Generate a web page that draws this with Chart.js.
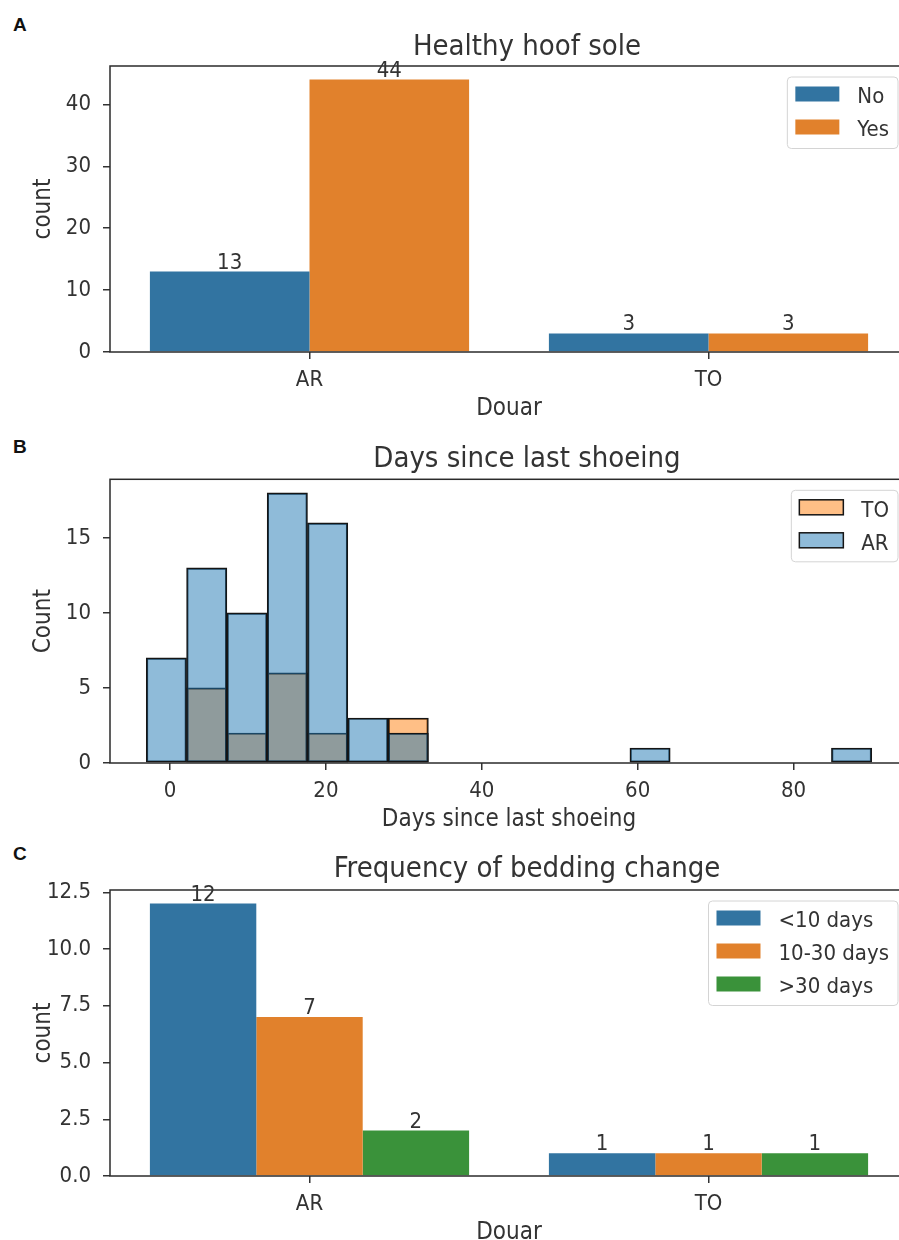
<!DOCTYPE html>
<html>
<head>
<meta charset="utf-8">
<script src="https://cdn.jsdelivr.net/npm/chart.js@4.4.1/dist/chart.umd.min.js"></script>
<style>
    html, body { margin: 0; padding: 0; background: #fff; overflow: hidden; }
    body { width: 899px; height: 1240px; position: relative; }
    canvas { position: absolute; left: 0; }
    .panel-letter { position: absolute; left: 13px; font: bold 19px 'Liberation Sans', Arial, sans-serif; line-height: 19px; color: #111; }
</style>
</head>
<body>
<div class="panel-letter" style="top:15px">A</div>
<div class="panel-letter" style="top:437px">B</div>
<div class="panel-letter" style="top:844px">C</div>
<canvas id="hoofChart" width="908" height="423" style="top:0px"></canvas>
<canvas id="shoeingChart" width="908" height="414" style="top:420px"></canvas>
<canvas id="beddingChart" width="908" height="417" style="top:830px"></canvas>
<script>
// A - healthy hoof sole, counts per douar
const douars = ['AR', 'TO'];
const soleNo = [13, 3];
const soleYes = [44, 3];
const soleTicks = [0, 10, 20, 30, 40];

// B - days since last shoeing (histogram, bin edges)
const shoeingBinEdges = [-3.04, 2.13, 7.30, 12.47, 17.64, 22.81, 27.98, 33.15, 38.32, 43.49,
    48.66, 53.83, 59.00, 64.17, 69.34, 74.51, 79.68, 84.85, 90.02];
const shoeingAR = [7, 13, 10, 18, 16, 3, 2, 0, 0, 0, 0, 0, 1, 0, 0, 0, 0, 1];
const shoeingTO = [0, 5, 2, 6, 2, 0, 3, 0, 0, 0, 0, 0, 0, 0, 0, 0, 0, 0];
const shoeingXTicks = [0, 20, 40, 60, 80];
const shoeingYTicks = [0, 5, 10, 15];

// C - frequency of bedding change
const beddingUnder10 = [12, 1];
const bedding10to30 = [7, 1];
const beddingOver30 = [2, 1];
const beddingTicks = [0, 2.5, 5, 7.5, 10, 12.5];

const FONT = "'DejaVu Sans Condensed', 'DejaVu Sans', sans-serif";
const INK = '#333';
Chart.defaults.font.family = FONT;
Chart.defaults.color = INK;

// box round the axes (matplotlib spines)
const framePlugin = {
    id: 'frame',
    afterDatasetsDraw(chart) {
        const { ctx, chartArea: a } = chart;
        ctx.save();
        ctx.strokeStyle = '#2b2b2b';
        ctx.lineWidth = 1.5;
        ctx.strokeRect(a.left, a.top, a.right - a.left, a.bottom - a.top);
        ctx.restore();
    }
};

// numbers above the bars
const barValuesPlugin = {
    id: 'barValues',
    afterDatasetsDraw(chart, args, opts) {
        if (!opts.show) return;
        const { ctx } = chart;
        ctx.save();
        ctx.font = `22px ${FONT}`;
        ctx.fillStyle = INK;
        ctx.textAlign = 'center';
        ctx.textBaseline = 'alphabetic';
        chart.data.datasets.forEach((ds, i) => {
            chart.getDatasetMeta(i).data.forEach((bar, j) => {
                ctx.fillText(String(ds.data[j]), bar.x, bar.y - 3);
            });
        });
        ctx.restore();
    }
};

// legend in the upper right corner of the axes
const cornerLegendPlugin = {
    id: 'cornerLegend',
    afterDraw(chart, args, opts) {
        const { ctx, chartArea: a } = chart;
        const order = opts.order || chart.data.datasets.map((d, i) => i);
        const items = order.map(i => chart.data.datasets[i]);
        ctx.save();
        ctx.font = `22px ${FONT}`;
        const textW = Math.max(...items.map(d => ctx.measureText(d.label).width));
        const patchW = 44, patchH = 15, rowH = 33;
        const right = a.right - 10, top = a.top + 11;
        const left = right - (8 + patchW + 18 + textW + 9);
        const bottom = top + 17 + (items.length - 1) * rowH + 21.5;
        ctx.beginPath();
        ctx.roundRect(left, top, right - left, bottom - top, 4);
        ctx.fillStyle = 'rgba(255,255,255,0.8)';
        ctx.fill();
        ctx.strokeStyle = '#d4d4d4';
        ctx.lineWidth = 1;
        ctx.stroke();
        items.forEach((d, k) => {
            const cy = top + 17 + k * rowH;
            const px = left + 8;
            ctx.fillStyle = d.backgroundColor;
            ctx.fillRect(px, cy - patchH / 2, patchW, patchH);
            if (d.borderWidth) {
                ctx.strokeStyle = d.borderColor;
                ctx.lineWidth = d.borderWidth;
                ctx.strokeRect(px, cy - patchH / 2, patchW, patchH);
            }
            ctx.fillStyle = INK;
            ctx.textAlign = 'left';
            ctx.textBaseline = 'middle';
            ctx.fillText(d.label, px + patchW + 18, cy + 3.5);
        });
        ctx.restore();
    }
};

// axes title (sits a bit right of the axes centre in the original)
const panelTitlePlugin = {
    id: 'panelTitle',
    afterDraw(chart, args, opts) {
        const { ctx } = chart;
        ctx.save();
        ctx.font = `29px ${FONT}`;
        ctx.fillStyle = INK;
        ctx.textAlign = 'center';
        ctx.textBaseline = 'alphabetic';
        ctx.fillText(opts.text, opts.x, opts.y);
        ctx.restore();
    }
};

const plugins = [framePlugin, barValuesPlugin, cornerLegendPlugin, panelTitlePlugin];

function tickGrid() {
    return { drawOnChartArea: false, offset: false, tickLength: 7, color: INK, lineWidth: 1.5 };
}

function yAxis(title, max, ticks, fmt) {
    return {
        min: 0,
        max: max,
        bounds: 'data',
        afterBuildTicks: s => { s.ticks = ticks.map(v => ({ value: v })); },
        afterFit: s => { s.width = 110; },
        grid: tickGrid(),
        border: { display: false },
        ticks: { padding: 12, color: INK, font: { size: 22 }, callback: fmt || (v => v) },
        title: { display: true, text: title, color: INK, font: { size: 24 }, padding: { top: 29, bottom: 0 } }
    };
}

function xCategory(title) {
    return {
        offset: true,
        afterFit: s => { s.height = 71; },
        grid: tickGrid(),
        border: { display: false },
        ticks: { padding: 8, color: INK, font: { size: 22 }, maxRotation: 0 },
        title: { display: true, text: title, color: INK, font: { size: 24 }, padding: 0 }
    };
}

function baseOptions(padTop, title, titleY, extraPlugins) {
    return {
        responsive: false,
        animation: false,
        devicePixelRatio: 1,
        layout: { padding: { top: padTop, left: 0, right: 0, bottom: 0 } },
        plugins: Object.assign({
            legend: { display: false },
            tooltip: { enabled: false },
            title: { display: false },
            panelTitle: { text: title, x: 527, y: titleY }
        }, extraPlugins)
    };
}

// ---- A ----
const hoofOptions = baseOptions(66, 'Healthy hoof sole', 54.5, { barValues: { show: true } });
hoofOptions.scales = {
    x: xCategory('Douar'),
    y: yAxis('count', Math.max(...soleNo, ...soleYes) * 1.05, soleTicks)
};
new Chart(document.getElementById('hoofChart'), {
    type: 'bar',
    data: {
        labels: douars,
        datasets: [
            { label: 'No', data: soleNo, backgroundColor: '#3274a1', borderWidth: 0, categoryPercentage: 0.8, barPercentage: 1 },
            { label: 'Yes', data: soleYes, backgroundColor: '#e1812c', borderWidth: 0, categoryPercentage: 0.8, barPercentage: 1 }
        ]
    },
    options: hoofOptions,
    plugins: plugins
});

// ---- B ----
const binCentres = shoeingBinEdges.slice(0, -1).map((e, i) => (e + shoeingBinEdges[i + 1]) / 2);
const edgeSpan = shoeingBinEdges[shoeingBinEdges.length - 1] - shoeingBinEdges[0];
const shoeingOptions = baseOptions(59.3, 'Days since last shoeing', 47, { cornerLegend: { order: [1, 0] } });
shoeingOptions.scales = {
    x: {
        type: 'linear',
        offset: false,
        min: shoeingBinEdges[0] - 0.05 * edgeSpan,
        max: shoeingBinEdges[shoeingBinEdges.length - 1] + 0.05 * edgeSpan,
        bounds: 'data',
        afterBuildTicks: s => { s.ticks = shoeingXTicks.map(v => ({ value: v })); },
        afterFit: s => { s.height = 71; },
        grid: tickGrid(),
        border: { display: false },
        ticks: { padding: 8, color: INK, font: { size: 22 }, maxRotation: 0 },
        title: { display: true, text: 'Days since last shoeing', color: INK, font: { size: 24 }, padding: 0 }
    },
    y: yAxis('Count', Math.max(...shoeingAR, ...shoeingTO) * 1.05, shoeingYTicks)
};
const histBar = { borderColor: '#151515', borderWidth: 1.5, borderSkipped: false, grouped: false, categoryPercentage: 1, barPercentage: 1 };
new Chart(document.getElementById('shoeingChart'), {
    type: 'bar',
    data: {
        datasets: [
            Object.assign({ label: 'AR', order: 0, backgroundColor: 'rgba(31,119,180,0.5)',
                data: binCentres.map((x, i) => ({ x: x, y: shoeingAR[i] })) }, histBar),
            Object.assign({ label: 'TO', order: 1, backgroundColor: 'rgba(255,127,14,0.5)',
                data: binCentres.map((x, i) => ({ x: x, y: shoeingTO[i] })) }, histBar)
        ]
    },
    options: shoeingOptions,
    plugins: plugins
});

// ---- C ----
const beddingOptions = baseOptions(60, 'Frequency of bedding change', 47.3, { barValues: { show: true } });
beddingOptions.scales = {
    x: xCategory('Douar'),
    y: yAxis('count', Math.max(...beddingUnder10, ...bedding10to30, ...beddingOver30) * 1.05, beddingTicks, v => v.toFixed(1))
};
new Chart(document.getElementById('beddingChart'), {
    type: 'bar',
    data: {
        labels: douars,
        datasets: [
            { label: '<10 days', data: beddingUnder10, backgroundColor: '#3274a1', borderWidth: 0, categoryPercentage: 0.8, barPercentage: 1 },
            { label: '10-30 days', data: bedding10to30, backgroundColor: '#e1812c', borderWidth: 0, categoryPercentage: 0.8, barPercentage: 1 },
            { label: '>30 days', data: beddingOver30, backgroundColor: '#3a923a', borderWidth: 0, categoryPercentage: 0.8, barPercentage: 1 }
        ]
    },
    options: beddingOptions,
    plugins: plugins
});
</script>
</body>
</html>
